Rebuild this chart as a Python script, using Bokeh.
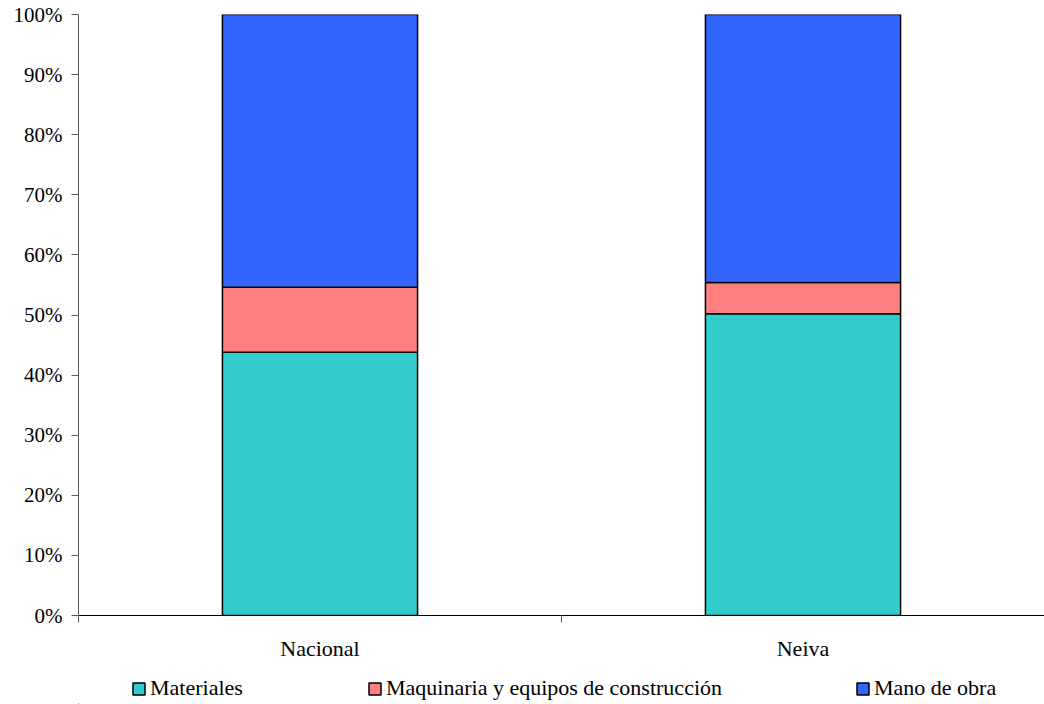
from bokeh.plotting import figure
from bokeh.layouts import column
from bokeh.models import (ColumnDataSource, FixedTicker, NumeralTickFormatter,
                          Legend, LegendItem, LinearAxis, Range1d)
from bokeh.embed import file_html
from bokeh.resources import INLINE

categories = ["Nacional", "Neiva"]
series_names = ["Materiales", "Maquinaria y equipos de construcción", "Mano de obra"]
materiales = [0.438, 0.502]
maquinaria = [0.108, 0.052]
mano_obra = [0.454, 0.446]
colors = ["#33CCCC", "#FF8080", "#3366FF"]
y_ticks = [i / 10 for i in range(11)]

FONT = "Liberation Serif"
stack_cols = ["materiales", "maquinaria", "mano_obra"]

x = [i + 0.5 for i in range(len(categories))]
data = dict(x=x, materiales=materiales, maquinaria=maquinaria, mano_obra=mano_obra)
src = ColumnDataSource(data)

p = figure(width=1044, height=668, output_backend="svg", toolbar_location=None,
           x_range=Range1d(0, len(categories)), y_range=Range1d(0, 1),
           x_axis_type=None, y_axis_type=None,
           min_border_left=78, min_border_right=0, min_border_top=14, min_border_bottom=53)
p.outline_line_color = None
p.xgrid.visible = False
p.ygrid.visible = False

renderers = p.vbar_stack(stack_cols, x="x", width=0.404,
                         source=src, fill_color=colors, line_color="black", line_width=1.5)

# y axis
yaxis = LinearAxis(ticker=FixedTicker(ticks=y_ticks),
                   formatter=NumeralTickFormatter(format="0%"))
yaxis.axis_line_color = "#595959"
yaxis.major_tick_line_color = "#595959"
yaxis.major_tick_out = 7
yaxis.major_tick_in = 0
yaxis.minor_tick_line_color = None
yaxis.major_label_text_font = FONT
yaxis.major_label_text_font_size = "21px"
yaxis.major_label_text_color = "black"
yaxis.major_label_standoff = 9
p.add_layout(yaxis, "left")

# x axis (labels at category centres, ticks at category boundaries)
xaxis = LinearAxis(ticker=FixedTicker(ticks=x, minor_ticks=list(range(len(categories) + 1))))
xaxis.major_label_overrides = {xi: c for xi, c in zip(x, categories)}
xaxis.axis_line_color = "black"
xaxis.major_tick_line_color = None
xaxis.major_tick_out = 7
xaxis.major_tick_in = 0
xaxis.minor_tick_line_color = "#595959"
xaxis.minor_tick_out = 7
xaxis.minor_tick_in = 0
xaxis.major_label_text_font = FONT
xaxis.major_label_text_font_size = "22px"
xaxis.major_label_text_color = "black"
xaxis.major_label_standoff = 13
p.add_layout(xaxis, "below")

# legend strip below the chart (its bars lie far outside the strip's visible range)
p2 = figure(width=1044, height=36, output_backend="svg", toolbar_location=None,
            x_range=Range1d(100, 101), y_range=Range1d(100, 101),
            x_axis_type=None, y_axis_type=None, min_border=0,
            min_border_left=78, min_border_right=0)
p2.outline_line_color = None
p2.xgrid.visible = False
p2.ygrid.visible = False
leg_renderers = p2.vbar_stack(stack_cols, x="x", width=0.404, source=src,
                              fill_color=colors, line_color="black", line_width=1.5)
legend_x = [53, 289, 777]
for r, name, lx in zip(leg_renderers, series_names, legend_x):
    lg = Legend(items=[LegendItem(label=name, renderers=[r])], location=(lx, 3),
                orientation="horizontal", padding=0, margin=0, spacing=0,
                border_line_color=None, background_fill_alpha=0,
                glyph_width=15, glyph_height=15, label_standoff=4,
                label_text_font=FONT, label_text_font_size="22px",
                label_text_color="black")
    p2.add_layout(lg, "center")

layout = column(p, p2, spacing=0)
open("out.html", "w").write(file_html(layout, INLINE))
